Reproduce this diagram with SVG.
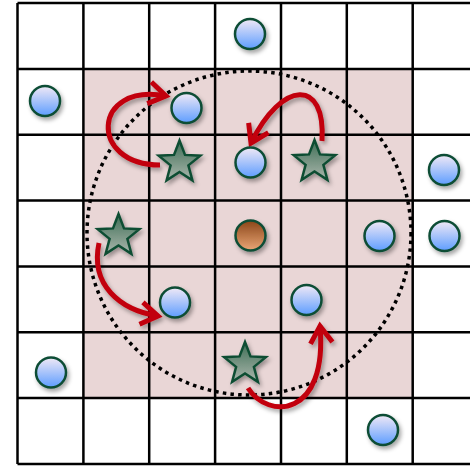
<svg xmlns="http://www.w3.org/2000/svg" width="470" height="466" viewBox="0 0 470 466">
<style>
.grid{stroke:#000;stroke-width:2.5;fill:none}
.blue{fill:url(#gBlue);stroke:#0d4d36;stroke-width:2.5;filter:url(#sh)}
.brown{fill:url(#gBrown);stroke:#0d4d36;stroke-width:2.5;filter:url(#sh)}
.star{fill:url(#gStar);stroke:#0d4d33;stroke-width:2.5;stroke-linejoin:miter;filter:url(#sh)}
.arr{fill:none;stroke:#c20010;stroke-width:5;stroke-linecap:butt;marker-end:url(#ah);filter:url(#sh)}
</style>
<defs>
<linearGradient id="gBlue" x1="0" y1="0" x2="0" y2="1">
<stop offset="0" stop-color="#f1e9f6"/>
<stop offset="1" stop-color="#5d9dff"/>
</linearGradient>
<linearGradient id="gBrown" x1="0" y1="0" x2="0" y2="1">
<stop offset="0" stop-color="#8a4518"/>
<stop offset="1" stop-color="#eaa676"/>
</linearGradient>
<linearGradient id="gStar" x1="0" y1="0" x2="0" y2="1">
<stop offset="0" stop-color="#3e6e55"/>
<stop offset="1" stop-color="#aab6ac"/>
</linearGradient>
<filter id="sh" x="-30%" y="-30%" width="170%" height="170%">
<feDropShadow dx="2" dy="3" stdDeviation="2" flood-color="#000" flood-opacity="0.35"/>
</filter>
<marker id="ah" markerUnits="userSpaceOnUse" markerWidth="40" markerHeight="40" refX="0" refY="0" viewBox="-25 -20 40 40" orient="auto" overflow="visible">
<path d="M-17,-11 L0,0 L-17,11" fill="none" stroke="#c20010" stroke-width="5" stroke-linejoin="miter"/>
</marker>
<path id="starShape" d="M0,-22 L5.5,-7.6 L20.9,-6.8 L8.9,2.9 L12.9,17.8 L0,9.4 L-12.9,17.8 L-8.9,2.9 L-20.9,-6.8 L-5.5,-7.6 Z"/>
</defs>
<rect x="0" y="0" width="470" height="466" fill="#fff"/>
<rect x="83.5" y="68.9" width="329" height="329" fill="#e9d6d6"/>
<g id="grid" class="grid">
<path d="M17.5,3 V464 M83.4,3 V464 M149.2,3 V464 M215.1,3 V464 M281,3 V464 M346.8,3 V464 M412.7,3 V464"/>
<path d="M17.5,3 H470 M17.5,68.9 H470 M17.5,134.7 H470 M17.5,200.6 H470 M17.5,266.4 H470 M17.5,332.3 H470 M17.5,398.1 H470 M17.5,464 H470"/>
</g>
<circle id="range" cx="249" cy="233" r="162" fill="none" stroke="#000" stroke-width="3.5" stroke-dasharray="3.5 4.2"/>
<g id="connectors">
<path class="arr" d="M160,165 C 88,165 92,82 166,96"/>
<path class="arr" d="M322,141 C 326,78 282,80 251,143"/>
<path class="arr" d="M99,243 C 90,285 120,310 158,316"/>
<path class="arr" d="M248,388 C 268,420 328,418 320,326"/>
</g>
<g id="c1"><circle class="blue" cx="250" cy="34" r="15"/></g>
<g id="c2"><circle class="blue" cx="45" cy="101" r="15"/></g>
<g id="c3"><circle class="blue" cx="186.5" cy="108" r="15"/></g>
<g id="c4"><circle class="blue" cx="250.5" cy="162.5" r="15"/></g>
<g id="c5"><circle class="blue" cx="444" cy="170" r="15"/></g>
<g id="c6"><circle class="blue" cx="379.5" cy="236" r="15"/></g>
<g id="c7"><circle class="blue" cx="444.5" cy="236" r="15"/></g>
<g id="c8"><circle class="blue" cx="175" cy="302.5" r="15"/></g>
<g id="c9"><circle class="blue" cx="306.5" cy="300" r="15"/></g>
<g id="c10"><circle class="blue" cx="51" cy="372.5" r="15"/></g>
<g id="c11"><circle class="blue" cx="383" cy="430" r="15"/></g>
<g id="center"><circle class="brown" cx="250.5" cy="235.5" r="15"/></g>
<g id="s1"><use href="#starShape" class="star" x="179.5" y="162.5"/></g>
<g id="s2"><use href="#starShape" class="star" x="314.5" y="162"/></g>
<g id="s3"><use href="#starShape" class="star" x="118.5" y="236"/></g>
<g id="s4"><use href="#starShape" class="star" x="245" y="364"/></g>
</svg>
